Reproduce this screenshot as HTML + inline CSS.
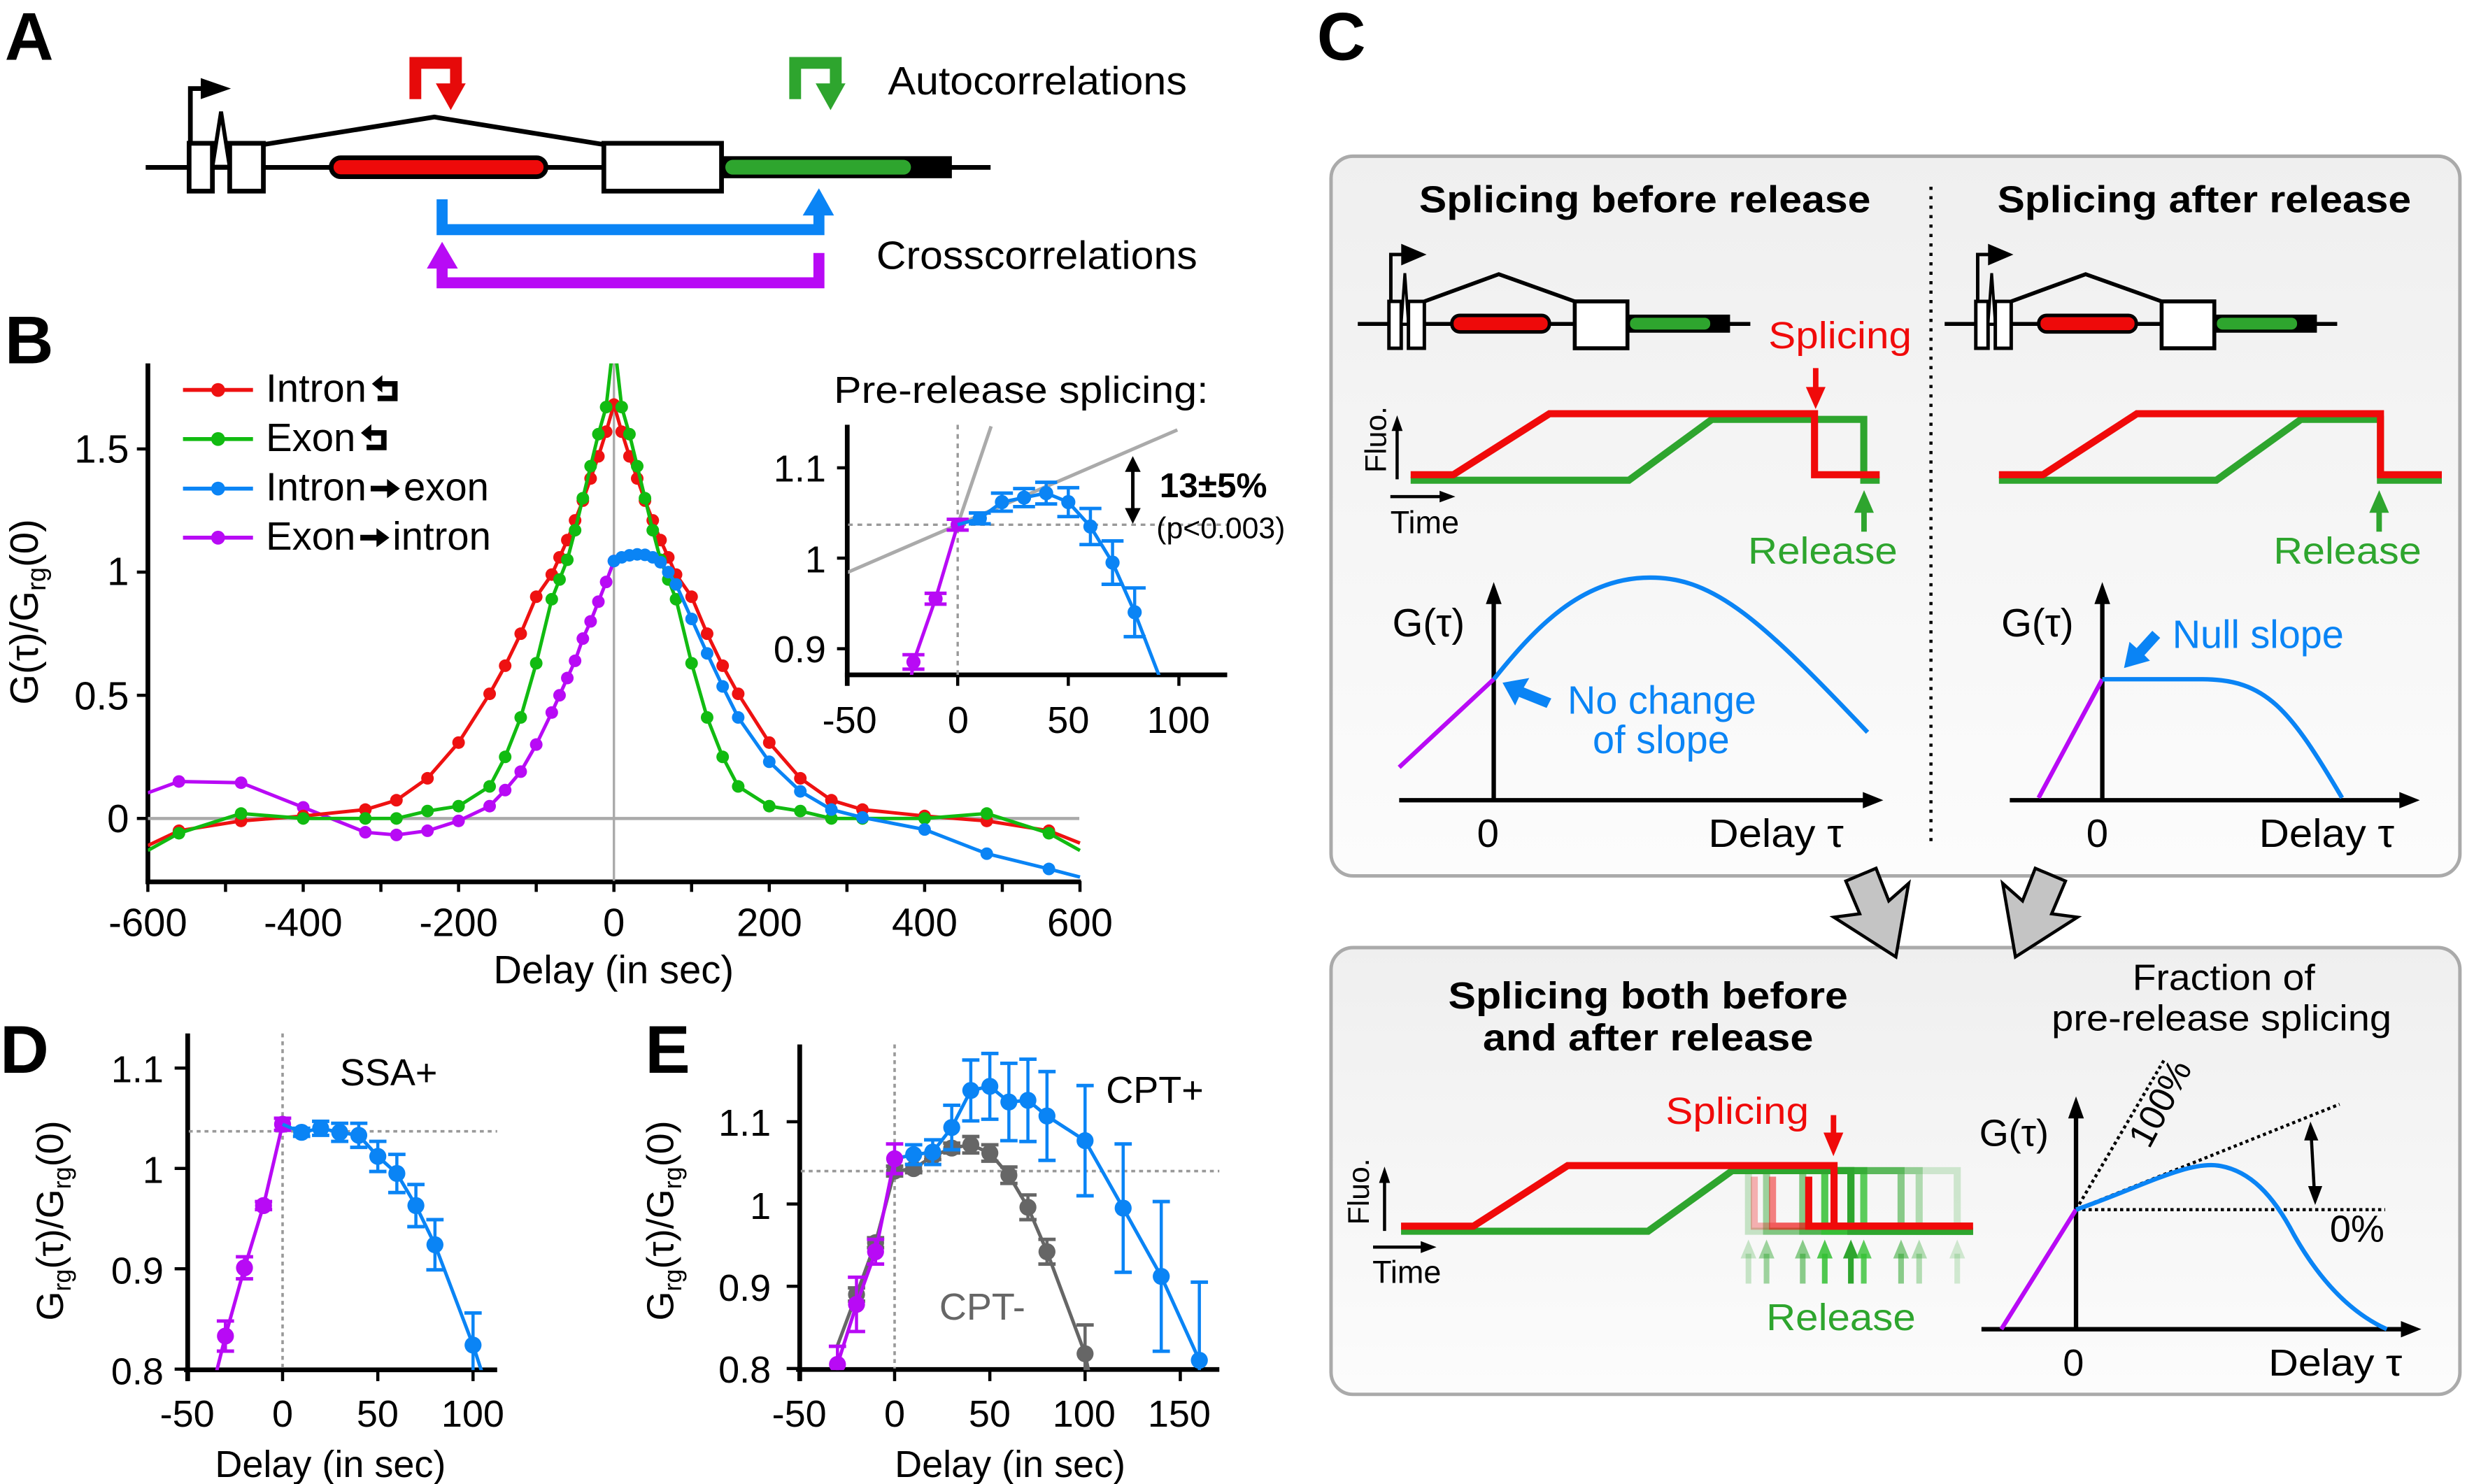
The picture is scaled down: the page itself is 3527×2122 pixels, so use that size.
<!DOCTYPE html>
<html><head><meta charset="utf-8">
<style>
html,body{margin:0;padding:0;background:#fff;}
svg{display:block;}
text{font-family:"Liberation Sans",sans-serif;fill:#000;}
</style></head>
<body>
<svg id="s" xmlns="http://www.w3.org/2000/svg" width="3527" height="2122" viewBox="0 0 1568 943.4" preserveAspectRatio="none">
<defs>
<linearGradient id="bg" x1="0" y1="0" x2="0" y2="1"><stop offset="0" stop-color="#efefef"/><stop offset="1" stop-color="#fcfcfc"/></linearGradient>
<clipPath id="cB"><rect x="94" y="231" width="593" height="330"/></clipPath>
<clipPath id="cI"><rect x="539" y="268" width="242" height="161"/></clipPath>
<clipPath id="cD"><rect x="119" y="655" width="200" height="216"/></clipPath>
<clipPath id="cE"><rect x="508" y="655" width="270" height="216"/></clipPath>
</defs>

<!-- Panel letters -->
<text x="3" y="38" font-size="43" font-weight="bold">A</text>
<text x="3" y="231" font-size="43" font-weight="bold">B</text>
<text x="837" y="38" font-size="43" font-weight="bold">C</text>
<text x="0" y="682" font-size="43" font-weight="bold">D</text>
<text x="410" y="682" font-size="43" font-weight="bold">E</text>

<!-- Panel A -->
<g stroke="#000" stroke-width="3" fill="none">
<line x1="92.6" y1="106.4" x2="629.6" y2="106.4"/>
<polyline points="167.4,91.9 276.1,74.4 383.8,91.9"/>
<polyline points="121,91 121,56.3 132,56.3"/>
</g>
<polygon points="127.6,49.6 146.8,56.3 127.6,63" fill="#000"/>
<rect x="120.2" y="91.1" width="14.8" height="30.4" fill="#fff" stroke="#000" stroke-width="3"/>
<polygon points="135,106 140.5,71 146,106" fill="#fff" stroke="#000" stroke-width="2.5"/>
<rect x="146" y="91.1" width="21.4" height="30.4" fill="#fff" stroke="#000" stroke-width="3"/>
<rect x="383.8" y="91.1" width="74.8" height="30.4" fill="#fff" stroke="#000" stroke-width="3"/>
<rect x="210.5" y="100.3" width="136.5" height="12" rx="6" fill="#ee0a0a" stroke="#000" stroke-width="3"/>
<rect x="458.6" y="99.3" width="146.4" height="14" fill="#000"/>
<rect x="461" y="101.6" width="118" height="9.4" rx="4.7" fill="#2ea52e"/>
<g id="redicon">
<path d="M264,63 V40 H289.8 V56" fill="none" stroke="#e60a0a" stroke-width="7.5" stroke-linejoin="miter"/>
<polygon points="277,53 296,53 286.5,70" fill="#e60a0a"/>
</g>
<g transform="translate(241.4,0)">
<path d="M264,63 V40 H289.8 V56" fill="none" stroke="#2ea52e" stroke-width="7.5"/>
<polygon points="277,53 296,53 286.5,70" fill="#2ea52e"/>
</g>
<path d="M281,126.7 V146 H520.5 V135" fill="none" stroke="#0a84f5" stroke-width="7"/>
<polygon points="510.2,137 530.1,137 520.5,119.7" fill="#0a84f5"/>
<path d="M281,170 V179.8 H520.5 V160.8" fill="none" stroke="#b80af5" stroke-width="7"/>
<polygon points="271.3,170.7 291,170.7 281,153.7" fill="#b80af5"/>
<text x="564.4" y="60" font-size="25" textLength="190" lengthAdjust="spacingAndGlyphs">Autocorrelations</text>
<text x="557" y="171" font-size="25" textLength="204" lengthAdjust="spacingAndGlyphs">Crosscorrelations</text>

<!-- Panel B axes -->
<g stroke="#000" stroke-width="3" fill="none">
<line x1="94" y1="231" x2="94" y2="562"/>
<line x1="92.5" y1="560.6" x2="687" y2="560.6"/>
</g>
<g id="Bticks" stroke="#000" stroke-width="2"></g>
<line x1="94" y1="520.3" x2="686" y2="520.3" stroke="#aaa" stroke-width="2"/>
<line x1="390.2" y1="231" x2="390.2" y2="560" stroke="#aaa" stroke-width="1.5"/>
<g font-size="25" text-anchor="end">
<text x="82" y="294">1.5</text><text x="82" y="372">1</text><text x="82" y="451">0.5</text><text x="82" y="529">0</text>
</g>
<g font-size="25" text-anchor="middle">
<text x="94" y="595">-600</text><text x="192.7" y="595">-400</text><text x="291.5" y="595">-200</text><text x="390.2" y="595">0</text><text x="489" y="595">200</text><text x="587.7" y="595">400</text><text x="686.4" y="595">600</text>
<text x="390" y="625">Delay (in sec)</text>
</g>
<text transform="translate(24,389) rotate(-90)" font-size="25" text-anchor="middle">G(τ)/G<tspan font-size="17" dy="5">rg</tspan><tspan dy="-5">(0)</tspan></text>
<g id="Bplot" clip-path="url(#cB)"></g>

<!-- legend -->
<g stroke-width="2.5">
<line x1="116.3" y1="247.9" x2="160.8" y2="247.9" stroke="#ee1111"/><circle cx="138.6" cy="247.9" r="4.4" fill="#ee1111"/>
<line x1="116.3" y1="279.1" x2="160.8" y2="279.1" stroke="#11bb11"/><circle cx="138.6" cy="279.1" r="4.4" fill="#11bb11"/>
<line x1="116.3" y1="310.6" x2="160.8" y2="310.6" stroke="#0a84f5"/><circle cx="138.6" cy="310.6" r="4.4" fill="#0a84f5"/>
<line x1="116.3" y1="341.8" x2="160.8" y2="341.8" stroke="#b80af5"/><circle cx="138.6" cy="341.8" r="4.4" fill="#b80af5"/>
</g>
<g font-size="25">
<text x="169" y="255.5">Intron</text>
<text x="169" y="286.7">Exon</text>
<text x="169" y="318.2">Intron</text><text x="256.5" y="318.2">exon</text>
<text x="169" y="349.4">Exon</text><text x="249.5" y="349.4">intron</text>
</g>
<g fill="#000">
<path d="M236.4,244 L243,238.5 L243,242.3 L252.7,242.3 L252.7,255 L240,255 L240,251.5 L249.2,251.5 L249.2,245.7 L243,245.7 L243,249.5 Z"/>
<path d="M229.4,275.2 L236,269.7 L236,273.5 L245.7,273.5 L245.7,286.2 L233,286.2 L233,282.7 L242.2,282.7 L242.2,276.9 L236,276.9 L236,280.7 Z"/>
<path d="M235.6,308.8 H246 V304.5 L254.2,310.6 L246,316.7 V312.4 H235.6 Z"/>
<path d="M229,340 H239.3 V335.7 L247.5,341.8 L239.3,347.9 V343.6 H229 Z"/>
</g>

<!-- Inset -->
<text x="530" y="256" font-size="24" textLength="238" lengthAdjust="spacingAndGlyphs">Pre-release splicing:</text>
<g stroke="#000" stroke-width="3" fill="none">
<line x1="538.5" y1="270" x2="538.5" y2="436"/>
<line x1="537" y1="429" x2="780" y2="429"/>
</g>
<g stroke="#000" stroke-width="2">
<line x1="532" y1="297.4" x2="538" y2="297.4"/><line x1="532" y1="354.8" x2="538" y2="354.8"/><line x1="532" y1="412.4" x2="538" y2="412.4"/>
<line x1="608.7" y1="429" x2="608.7" y2="436"/><line x1="679" y1="429" x2="679" y2="436"/><line x1="749.3" y1="429" x2="749.3" y2="436"/>
</g>
<g font-size="24" text-anchor="end"><text x="525" y="306">1.1</text><text x="525" y="364">1</text><text x="525" y="421">0.9</text></g>
<g font-size="24" text-anchor="middle"><text x="540" y="466">-50</text><text x="609" y="466">0</text><text x="679" y="466">50</text><text x="749" y="466">100</text></g>
<g id="Iplot" clip-path="url(#cI)"></g>
<g stroke="#000" stroke-width="2.2" fill="#000">
<line x1="720" y1="297" x2="720" y2="327"/>
<polygon points="720,290 715,300 725,300" stroke="none"/>
<polygon points="720,333 715,323 725,323" stroke="none"/>
</g>
<text x="737" y="316" font-size="22" font-weight="bold">13±5%</text>
<text x="735" y="342" font-size="19">(p&lt;0.003)</text>

<!-- Panel D -->
<g stroke="#000" stroke-width="3" fill="none">
<line x1="119.3" y1="657" x2="119.3" y2="878"/>
<line x1="117" y1="870.8" x2="316" y2="870.8"/>
</g>
<g id="Dticks" stroke="#000" stroke-width="2"></g>
<g font-size="24" text-anchor="end"><text x="104" y="688">1.1</text><text x="104" y="752">1</text><text x="104" y="816">0.9</text><text x="104" y="880">0.8</text></g>
<g font-size="24" text-anchor="middle"><text x="119" y="907">-50</text><text x="179.6" y="907">0</text><text x="240" y="907">50</text><text x="300.5" y="907">100</text>
<text x="210" y="939">Delay (in sec)</text></g>
<text transform="translate(40,776) rotate(-90)" font-size="24" text-anchor="middle">G<tspan font-size="16" dy="5">rg</tspan><tspan dy="-5">(τ)/G</tspan><tspan font-size="16" dy="5">rg</tspan><tspan dy="-5">(0)</tspan></text>
<text x="216" y="690" font-size="24">SSA+</text>
<g id="Dplot" clip-path="url(#cD)"></g>

<!-- Panel E -->
<g stroke="#000" stroke-width="3" fill="none">
<line x1="508.3" y1="664" x2="508.3" y2="878"/>
<line x1="506" y1="870.6" x2="775" y2="870.6"/>
</g>
<g id="Eticks" stroke="#000" stroke-width="2"></g>
<g font-size="24" text-anchor="end"><text x="490" y="722">1.1</text><text x="490" y="775">1</text><text x="490" y="827">0.9</text><text x="490" y="879">0.8</text></g>
<g font-size="24" text-anchor="middle"><text x="508" y="907">-50</text><text x="568.6" y="907">0</text><text x="629" y="907">50</text><text x="689" y="907">100</text><text x="749.5" y="907">150</text>
<text x="642" y="939">Delay (in sec)</text></g>
<text transform="translate(428,776) rotate(-90)" font-size="24" text-anchor="middle">G<tspan font-size="16" dy="5">rg</tspan><tspan dy="-5">(τ)/G</tspan><tspan font-size="16" dy="5">rg</tspan><tspan dy="-5">(0)</tspan></text>
<text x="703" y="701" font-size="24">CPT+</text>
<text x="597" y="839" font-size="24" fill="#666" style="fill:#666">CPT-</text>
<g id="Eplot" clip-path="url(#cE)"></g>

<!-- Panel C boxes -->
<rect x="846" y="99.3" width="717.5" height="457.5" rx="14" fill="url(#bg)" stroke="#aaa" stroke-width="2.2"/>
<rect x="846" y="602.4" width="717.5" height="284" rx="14" fill="url(#bg)" stroke="#aaa" stroke-width="2.2"/>
<polygon points="1293.6,552 1312.8,560.1 1304,580.9 1320.4,583.1 1281,608.3 1272.9,561.6 1285.5,572.7" fill="#c4c4c4" stroke="#000" stroke-width="2"/>
<polygon points="1192.4,552 1173.2,560.1 1182,580.9 1165.6,583.1 1205,608.3 1213.1,561.6 1200.5,572.7" fill="#c4c4c4" stroke="#000" stroke-width="2"/>

<line x1="1227.3" y1="118.7" x2="1227.3" y2="538.4" stroke="#000" stroke-width="2" stroke-dasharray="2,4"/>
<g font-weight="bold" font-size="24">
<text x="902" y="135" textLength="287" lengthAdjust="spacingAndGlyphs">Splicing before release</text>
<text x="1269.5" y="135" textLength="263" lengthAdjust="spacingAndGlyphs">Splicing after release</text>
<text x="920.5" y="641.2" textLength="254" lengthAdjust="spacingAndGlyphs">Splicing both before</text>
<text x="942.5" y="667.7" textLength="210" lengthAdjust="spacingAndGlyphs">and after release</text>
</g>
<g font-size="23">
<text x="1355.4" y="629.4" textLength="116" lengthAdjust="spacingAndGlyphs">Fraction of</text>
<text x="1304" y="655.2" textLength="216" lengthAdjust="spacingAndGlyphs">pre-release splicing</text>
</g>

<!-- gene small (template) -->
<g id="gL">
<line x1="863" y1="205.9" x2="1112.5" y2="205.9" stroke="#000" stroke-width="2.5"/>
<polyline points="884,192 884,161.8 892,161.8" fill="none" stroke="#000" stroke-width="2.2"/>
<polygon points="890.6,155 906.7,161.8 890.6,168.7" fill="#000"/>
<polyline points="905.3,191.6 952.6,174.3 1000.9,191.6" fill="none" stroke="#000" stroke-width="2.5"/>
<rect x="882.8" y="191.6" width="7.8" height="29.8" fill="#fff" stroke="#000" stroke-width="2.2"/>
<polygon points="890.6,206 892.9,173.7 895.2,206" fill="#fff" stroke="#000" stroke-width="1.8"/>
<rect x="895.2" y="191.6" width="10.1" height="29.8" fill="#fff" stroke="#000" stroke-width="2.2"/>
<rect x="1000.9" y="191.6" width="33.5" height="29.8" fill="#fff" stroke="#000" stroke-width="2.5"/>
<rect x="922.8" y="200.5" width="62" height="10.5" rx="5" fill="#ee0a0a" stroke="#000" stroke-width="2.2"/>
<rect x="1034.4" y="200" width="65.2" height="11.5" fill="#000"/>
<rect x="1036" y="202" width="51" height="7.5" rx="3.5" fill="#2ea52e"/>
</g>
<use href="#gL" transform="translate(373,0)"/>

<!-- Fluo traces left -->
<g fill="none" stroke-width="4.5" stroke-linejoin="miter">
<polyline points="896.6,305.3 1035.3,305.3 1088.1,266.6 1184.6,266.6 1184.6,305.3 1194.7,305.3" stroke="#2ea52e"/>
<polyline points="896.6,301.8 923.7,301.8 984.8,263 1153.3,263 1153.3,301.8 1194.7,301.8" stroke="#f00a0a"/>
<polyline points="1270.5,305.3 1408.7,305.3 1462.5,266.6 1513,266.6 1513,305.3 1552,305.3" stroke="#2ea52e"/>
<polyline points="1270.5,301.8 1298.5,301.8 1358.2,263 1513,263 1513,301.8 1552,301.8" stroke="#f00a0a"/>
</g>
<g stroke="#000" stroke-width="2" fill="#000">
<line x1="888" y1="304.7" x2="888" y2="272"/><polygon points="888,264 884.5,274 891.5,274" stroke="none"/>
<line x1="883.7" y1="315.7" x2="917" y2="315.7"/><polygon points="925,315.7 915,312 915,319.4" stroke="none"/>
</g>
<text transform="translate(881,279.4) rotate(-90)" font-size="19" text-anchor="middle">Fluo.</text>
<text x="883.7" y="339" font-size="20">Time</text>
<text x="1124" y="221.4" font-size="24" fill="#f00a0a" style="fill:#f00a0a" textLength="91" lengthAdjust="spacingAndGlyphs">Splicing</text>
<rect x="1152.3" y="234" width="3.5" height="14" fill="#f00a0a"/><polygon points="1147.8,246 1160.3,246 1154,260" fill="#f00a0a"/>
<rect x="1183" y="324" width="3.5" height="14" fill="#2ea52e"/><polygon points="1178.5,326 1191,326 1184.8,311.6" fill="#2ea52e"/>
<rect x="1510.4" y="324" width="3.5" height="14" fill="#2ea52e"/><polygon points="1505.9,326 1518.4,326 1512.2,311.6" fill="#2ea52e"/>
<text x="1111" y="358.3" font-size="24" fill="#2ea52e" style="fill:#2ea52e" textLength="95" lengthAdjust="spacingAndGlyphs">Release</text>
<text x="1445" y="358.3" font-size="24" fill="#2ea52e" style="fill:#2ea52e" textLength="94" lengthAdjust="spacingAndGlyphs">Release</text>

<!-- G plots top -->
<g stroke="#000" stroke-width="2.8" fill="none">
<line x1="949.4" y1="508.7" x2="949.4" y2="380"/>
<line x1="889.3" y1="508.7" x2="1188" y2="508.7"/>
<line x1="1336.2" y1="508.7" x2="1336.2" y2="380"/>
<line x1="1277.4" y1="508.7" x2="1529" y2="508.7"/>
</g>
<g fill="#000">
<polygon points="949.4,370 944.4,384 954.4,384"/><polygon points="1197,508.7 1184,503.5 1184,513.9"/>
<polygon points="1336.2,370 1331.2,384 1341.2,384"/><polygon points="1538,508.7 1525,503.5 1525,513.9"/>
</g>
<g fill="none" stroke-width="2.8">
<line x1="889.3" y1="487.8" x2="949.4" y2="431.8" stroke="#b80af5"/>
<path d="M949.4,431.8 C975,400 1005,367 1049,367.2 C1090,367 1120,395 1187,465.5" stroke="#0a84f5"/>
<line x1="1295.7" y1="507.2" x2="1336.2" y2="431.8" stroke="#b80af5"/>
<path d="M1336.2,431.8 H1400 C1440,432 1455,450 1488.6,507.2" stroke="#0a84f5"/>
</g>
<g fill="#0a84f5">
<polygon points="955,434 972,431 968.5,437 986,444 983,450 965.5,443 963,448.5"/>
<polygon points="1350,424.7 1353.5,408 1358,412 1368,401 1373,405.5 1363,416.5 1366.5,420"/>
</g>
<g font-size="25">
<text x="885" y="404.5">G(τ)</text>
<text x="1272" y="404.5">G(τ)</text>
<text x="996.3" y="453.6" fill="#0a84f5" style="fill:#0a84f5" textLength="120" lengthAdjust="spacingAndGlyphs">No change</text>
<text x="1012.3" y="478.9" fill="#0a84f5" style="fill:#0a84f5" textLength="87" lengthAdjust="spacingAndGlyphs">of slope</text>
<text x="1380.7" y="411.9" fill="#0a84f5" style="fill:#0a84f5" textLength="109" lengthAdjust="spacingAndGlyphs">Null slope</text>
<text x="945.7" y="538.4" text-anchor="middle">0</text>
<text x="1085.8" y="538.4" textLength="86" lengthAdjust="spacingAndGlyphs">Delay τ</text>
<text x="1333" y="538.4" text-anchor="middle">0</text>
<text x="1435.8" y="538.4" textLength="86" lengthAdjust="spacingAndGlyphs">Delay τ</text>
</g>

<!-- bottom box traces -->
<g id="fade"></g>
<g fill="none" stroke-width="4.5">
<polyline points="890.5,782.7 1047.5,782.7 1101,744.2 1176.4,744.2 1176.4,782.7 1254,782.7" stroke="#2ea52e"/>
<polyline points="890.5,779.5 936.5,779.5 996.4,741 1165.7,741 1165.7,779.5 1254,779.5" stroke="#f00a0a"/>
</g>
<g stroke="#000" stroke-width="2" fill="#000">
<line x1="880" y1="782.5" x2="880" y2="750"/><polygon points="880,741.6 876.5,752 883.5,752" stroke="none"/>
<line x1="872.7" y1="792.8" x2="906" y2="792.8"/><polygon points="913,792.8 903,789 903,796.6" stroke="none"/>
</g>
<text transform="translate(870,757.5) rotate(-90)" font-size="19" text-anchor="middle">Fluo.</text>
<text x="872.3" y="815.5" font-size="20">Time</text>
<text x="1058.7" y="714.5" font-size="24" fill="#f00a0a" style="fill:#f00a0a" textLength="91" lengthAdjust="spacingAndGlyphs">Splicing</text>
<rect x="1163.6" y="708.9" width="3.5" height="14" fill="#f00a0a"/><polygon points="1159,720 1171.6,720 1165.3,735" fill="#f00a0a"/>
<text x="1122.6" y="845.5" font-size="24" fill="#2ea52e" style="fill:#2ea52e" textLength="95" lengthAdjust="spacingAndGlyphs">Release</text>

<!-- bottom G plot -->
<g stroke="#000" stroke-width="2" fill="none" stroke-dasharray="2,2">
<line x1="1319.5" y1="769" x2="1376" y2="673"/>
<line x1="1319.5" y1="769" x2="1487" y2="702"/>
<line x1="1319.5" y1="769" x2="1516" y2="769"/>
</g>
<g stroke="#000" stroke-width="2.8" fill="none">
<line x1="1319.5" y1="845" x2="1319.5" y2="707"/>
<line x1="1259.4" y1="845" x2="1530" y2="845"/>
</g>
<g fill="#000">
<polygon points="1319.5,697 1314.5,711 1324.5,711"/><polygon points="1539,845 1526,839.8 1526,850.2"/>
</g>
<g fill="none" stroke-width="2.8">
<line x1="1272" y1="845" x2="1319.5" y2="769" stroke="#b80af5"/>
<path d="M1319.5,769 C1360,755 1390,738 1410,741 C1430,744 1445,760 1458,785 C1475,815 1495,835 1517,845" stroke="#0a84f5"/>
</g>
<g stroke="#000" stroke-width="2" fill="#000">
<line x1="1469" y1="722" x2="1471" y2="758"/>
<polygon points="1468.5,713 1464.5,725 1473.5,725" stroke="none"/>
<polygon points="1471.5,766 1467,754 1476,754" stroke="none"/>
</g>
<g font-size="24">
<text x="1258" y="728.5">G(τ)</text>
<text x="1480.8" y="789.3">0%</text>
<text transform="translate(1366,731) rotate(-62)" font-size="23">100%</text>
<text x="1317.8" y="874.5" text-anchor="middle">0</text>
<text x="1441.8" y="874.5" textLength="85" lengthAdjust="spacingAndGlyphs">Delay τ</text>
</g>

<script>
var NS="http://www.w3.org/2000/svg";
function el(t,a,p){var e=document.createElementNS(NS,t);for(var k in a)e.setAttribute(k,a[k]);p.appendChild(e);return e;}
function draw(g,data,fx,fy,col,r,lw,cap,extra){
  var pts=data.map(function(d){return fx(d[0]).toFixed(2)+","+fy(d[1]).toFixed(2);});
  if(extra){if(extra[0])pts.unshift(fx(extra[0][0])+","+fy(extra[0][1]));if(extra[1])pts.push(fx(extra[1][0])+","+fy(extra[1][1]));}
  el("polyline",{points:pts.join(" "),fill:"none",stroke:col,"stroke-width":lw},g);
  data.forEach(function(d){
    if(d[2]){var x=fx(d[0]),y1=fy(d[1]+d[2]),y2=fy(d[1]-d[2]);
      el("line",{x1:x,y1:y1,x2:x,y2:y2,stroke:col,"stroke-width":2},g);
      el("line",{x1:x-cap,y1:y1,x2:x+cap,y2:y1,stroke:col,"stroke-width":2.2},g);
      el("line",{x1:x-cap,y1:y2,x2:x+cap,y2:y2,stroke:col,"stroke-width":2.2},g);}
    el("circle",{cx:fx(d[0]),cy:fy(d[1]),r:r,fill:col},g);
  });
}
// Panel B
var B=document.getElementById("Bplot");
var bx=function(t){return 390.2+t*0.4937;}, by=function(v){return 520.3-v*156.6;};
var bt=document.getElementById("Bticks");
for(var t=-600;t<=600;t+=100){el("line",{x1:bx(t),y1:560,x2:bx(t),y2:567},bt);}
[0,0.5,1,1.5].forEach(function(v){el("line",{x1:87,y1:by(v),x2:94,y2:by(v)},bt);});
function sym(tbl){var o=[];for(var i=tbl.length-1;i>0;i--)o.push([-tbl[i][0],tbl[i][1]]);return o.concat(tbl);}
var red=[[0,1.68],[10,1.57],[20,1.47],[30,1.38],[40,1.29],[50,1.21],[60,1.13],[70,1.06],[80,0.99],[100,0.9],[120,0.75],[140,0.62],[160,0.506],[200,0.308],[240,0.163],[280,0.074],[320,0.036],[400,0.01],[480,-0.01],[560,-0.05]];
var grn=[[0,1.95],[10,1.67],[20,1.56],[30,1.43],[40,1.3],[50,1.17],[60,1.05],[70,0.97],[80,0.89],[100,0.63],[120,0.41],[140,0.25],[160,0.13],[200,0.05],[240,0.03],[280,0.0],[320,0.0],[400,0.0],[480,0.02],[560,-0.06]];
var blu=[[0,1.045],[10,1.06],[20,1.068],[30,1.072],[40,1.07],[50,1.06],[60,1.04],[70,1.0],[80,0.95],[100,0.81],[120,0.67],[140,0.536],[160,0.41],[200,0.23],[240,0.11],[280,0.036],[320,0.004],[400,-0.045],[480,-0.143],[560,-0.205]];
var pur=[[-560,0.15],[-480,0.145],[-400,0.045],[-320,-0.056],[-280,-0.067],[-240,-0.05],[-200,-0.01],[-160,0.05],[-140,0.115],[-120,0.19],[-100,0.3],[-80,0.43],[-70,0.5],[-60,0.57],[-50,0.64],[-40,0.73],[-30,0.8],[-20,0.88],[-10,0.96],[0,1.045]];
draw(B,pur,bx,by,"#b80af5",4,2.2,0,[[-600,0.104],null]);
draw(B,sym(red),bx,by,"#ee1111",4,2.2,0,[[-600,-0.11],[600,-0.1]]);
draw(B,sym(grn),bx,by,"#11bb11",4,2.2,0,[[-600,-0.13],[600,-0.13]]);
draw(B,blu,bx,by,"#0a84f5",4,2.2,0,[null,[600,-0.238]]);
// Inset
var I=document.getElementById("Iplot");
var ix=function(t){return 608.7+t*1.406;}, iy=function(v){return 354.8-(v-1)*574;};
el("line",{x1:ix(0),y1:270,x2:ix(0),y2:429,stroke:"#999","stroke-width":1.5,"stroke-dasharray":"3,3"},I);
el("line",{x1:539,y1:iy(1.037),x2:780,y2:iy(1.037),stroke:"#999","stroke-width":1.5,"stroke-dasharray":"3,3"},I);
el("line",{x1:ix(-50),y1:iy(1.037-50*0.00106),x2:ix(99.3),y2:iy(1.142),stroke:"#aaa","stroke-width":2.2},I);
el("line",{x1:ix(0),y1:iy(1.037),x2:ix(15.1),y2:iy(1.146),stroke:"#aaa","stroke-width":2.2},I);
draw(I,[[-20,0.885,0.008],[-10,0.955,0.006],[0,1.037,0.006]],ix,iy,"#b80af5",4.5,2.2,7,[[-21.5,0.86],null]);
draw(I,[[10,1.044,0.006],[20,1.062,0.01],[30,1.067,0.01],[40,1.072,0.012],[50,1.062,0.016],[60,1.035,0.02],[70,0.995,0.024],[80,0.94,0.027]],ix,iy,"#0a84f5",4.5,2.2,7,[[0,1.037],[91,0.87]]);
// D
var D=document.getElementById("Dplot");
var dx=function(t){return 179.6+t*1.2106;}, dy=function(v){return 742.8-(v-1)*638;};
var dt=document.getElementById("Dticks");
[-50,0,50,100].forEach(function(t){el("line",{x1:dx(t),y1:870,x2:dx(t),y2:878},dt);});
[0.8,0.9,1,1.1].forEach(function(v){el("line",{x1:111,y1:dy(v),x2:119,y2:dy(v)},dt);});
el("line",{x1:dx(0),y1:657,x2:dx(0),y2:870,stroke:"#999","stroke-width":1.6,"stroke-dasharray":"2.5,2.5"},D);
el("line",{x1:120,y1:dy(1.037),x2:316,y2:dy(1.037),stroke:"#999","stroke-width":1.6,"stroke-dasharray":"2.5,2.5"},D);
draw(D,[[-30,0.833,0.015],[-20,0.901,0.011],[-10,0.963,0.004],[0,1.044,0.006]],dx,dy,"#b80af5",5.4,2.2,5.5,[[-35,0.795],null]);
draw(D,[[10,1.036,0.004],[20,1.04,0.007],[30,1.036,0.009],[40,1.033,0.012],[50,1.012,0.015],[60,0.995,0.019],[70,0.963,0.021],[80,0.924,0.025],[100,0.824,0.032]],dx,dy,"#0a84f5",5.4,2.2,5.5,[[0,1.044],[105,0.795]]);
// E
var E=document.getElementById("Eplot");
var ex=function(t){return 568.6+t*1.2106;}, ey=function(v){return 765.4-(v-1)*523;};
var et=document.getElementById("Eticks");
[-50,0,50,100,150].forEach(function(t){el("line",{x1:ex(t),y1:870,x2:ex(t),y2:878},et);});
[0.8,0.9,1,1.1].forEach(function(v){el("line",{x1:500,y1:ey(v),x2:508,y2:ey(v)},et);});
el("line",{x1:ex(0),y1:664,x2:ex(0),y2:870,stroke:"#999","stroke-width":1.6,"stroke-dasharray":"2.5,2.5"},E);
el("line",{x1:509,y1:ey(1.04),x2:775,y2:ey(1.04),stroke:"#999","stroke-width":1.6,"stroke-dasharray":"2.5,2.5"},E);
draw(E,[[-20,0.89,0.008],[-10,0.953,0.006],[0,1.04,0.006],[10,1.043,0.005],[20,1.058,0.004],[30,1.068,0.006],[40,1.072,0.01],[50,1.062,0.01],[60,1.035,0.01],[70,0.996,0.015],[80,0.942,0.015],[100,0.818,0.035]],ex,ey,"#666666",5.4,2.2,5.5,[[-30,0.828],[102,0.795]]);
draw(E,[[10,1.06,0.012],[20,1.063,0.015],[30,1.093,0.027],[40,1.138,0.037],[50,1.143,0.04],[60,1.124,0.047],[70,1.126,0.05],[80,1.107,0.054],[100,1.077,0.067],[120,0.995,0.078],[140,0.912,0.091],[160,0.81,0.095]],ex,ey,"#0a84f5",5.4,2.2,5.5,[[0,1.055],null]);
draw(E,[[-30,0.805,0.022],[-20,0.878,0.033],[-10,0.942,0.015],[0,1.055,0.018]],ex,ey,"#b80af5",5.4,2.2,5.5,null);
// fading release traces
var F=document.getElementById("fade");
var gx=[1111.3,1122.8,1145.8,1159.8,1176.4,1184.6,1208.3,1219.8,1244];
var ga=[0.25,0.45,0.55,0.85,1.0,0.8,0.55,0.35,0.2];
var gc=["#2ea52e","#2ea52e","#2ea52e","#33c033","#2ea52e","#33c033","#2ea52e","#2ea52e","#2ea52e"];
gx.forEach(function(x,i){
  el("polyline",{points:"1101,744.2 "+x+",744.2 "+x+",782.7 1254,782.7",fill:"none",stroke:gc[i],"stroke-width":4.5,opacity:ga[i]},F);
  el("rect",{x:x-1.8,y:797,width:3.6,height:19,fill:gc[i],opacity:ga[i]},F);
  el("polygon",{points:(x-5)+",800 "+(x+5)+",800 "+x+",788",fill:gc[i],opacity:ga[i]},F);
});
[[1115,0.3],[1126.6,0.5],[1149.6,1.0]].forEach(function(a){
  el("polyline",{points:a[0]+",748 "+a[0]+",779.5 1254,779.5",fill:"none",stroke:"#f00a0a","stroke-width":4.5,opacity:a[1]},F);
});
</script>
</svg>
</body></html>
